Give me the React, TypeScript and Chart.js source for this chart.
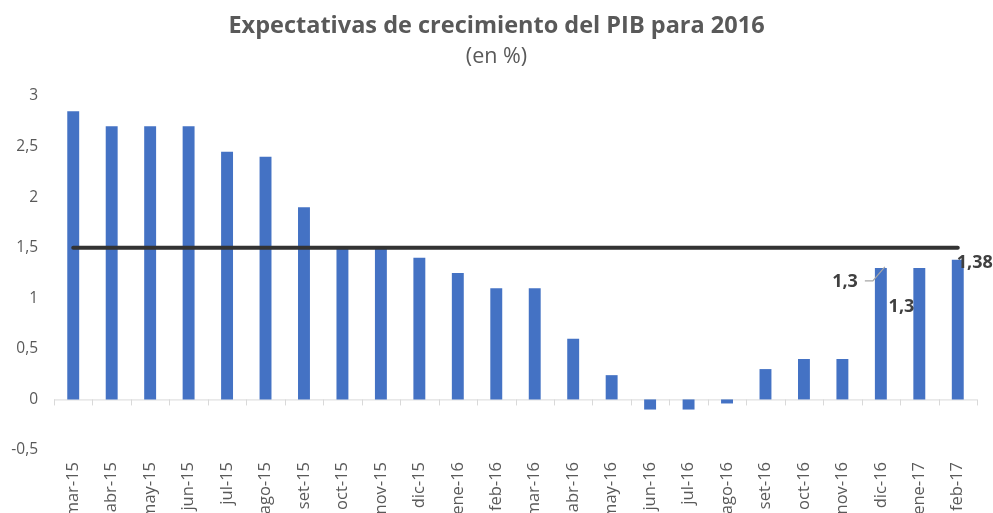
import React, { useEffect, useRef } from "react";
import { Chart, registerables } from "chart.js";

Chart.register(...registerables);

const categories: string[] = [
  "mar-15", "abr-15", "may-15", "jun-15", "jul-15", "ago-15", "set-15", "oct-15",
  "nov-15", "dic-15", "ene-16", "feb-16", "mar-16", "abr-16", "may-16", "jun-16",
  "jul-16", "ago-16", "set-16", "oct-16", "nov-16", "dic-16", "ene-17", "feb-17",
];

const expectations: number[] = [
  2.85, 2.7, 2.7, 2.7, 2.45, 2.4, 1.9, 1.5, 1.5, 1.4, 1.25, 1.1, 1.1, 0.6, 0.24,
  -0.1, -0.1, -0.04, 0.3, 0.4, 0.4, 1.3, 1.3, 1.38,
];

const reference: number[] = categories.map(() => 1.5);

const yTicks: number[] = [-0.5, 0, 0.5, 1, 1.5, 2, 2.5, 3];

const labelTexts: { index: number; text: string }[] = [
  { index: 21, text: "1,3" },
  { index: 22, text: "1,3" },
  { index: 23, text: "1,38" },
];

const titleText = "Expectativas de crecimiento del PIB para 2016";
const subtitleText = "(en %)";

const FONT = "'Open Sans', 'DejaVu Sans', sans-serif";

const fmt = (v: number) => String(v).replace(".", ",");

const zeroAxisPlugin = {
  id: "zeroAxis",
  beforeDatasetsDraw(chart: any) {
    const { ctx, chartArea, scales } = chart;
    const x = scales.x;
    const y0 = scales.y.getPixelForValue(0);
    ctx.save();
    ctx.strokeStyle = "#d9d9d9";
    ctx.lineWidth = 1;
    ctx.beginPath();
    ctx.moveTo(chartArea.left, y0 + 0.5);
    ctx.lineTo(chartArea.right, y0 + 0.5);
    for (let i = 0; i <= categories.length; i++) {
      const px = Math.round(x.getPixelForValue(i - 0.5)) + 0.5;
      ctx.moveTo(px, y0);
      ctx.lineTo(px, y0 + 6);
    }
    ctx.stroke();
    ctx.restore();
  },
};

const dataLabelPlugin = {
  id: "dataLabels",
  afterDatasetsDraw(chart: any) {
    const { ctx } = chart;
    const meta = chart.getDatasetMeta(1);
    ctx.save();
    ctx.font = `bold 18px ${FONT}`;
    ctx.fillStyle = "#404040";
    ctx.textBaseline = "middle";
    labelTexts.forEach(({ index, text }, k) => {
      const el = meta.data[index];
      if (!el) return;
      const bx = el.x;
      const by = el.y;
      if (k === 0) {
        ctx.textAlign = "right";
        ctx.fillText(text, bx - 23, by + 14);
        ctx.strokeStyle = "#a6a6a6";
        ctx.lineWidth = 1.2;
        ctx.beginPath();
        ctx.moveTo(bx - 16, by + 13);
        ctx.lineTo(bx - 8, by + 13);
        ctx.lineTo(bx + 4, by - 1);
        ctx.stroke();
      } else if (k === 1) {
        ctx.textAlign = "right";
        ctx.fillText(text, bx - 5, by + 39);
      } else {
        ctx.textAlign = "left";
        ctx.fillText(text, bx - 1, by + 3);
      }
    });
    ctx.restore();
  },
};

export default function App() {
  const canvasRef = useRef<HTMLCanvasElement | null>(null);

  useEffect(() => {
    if (!canvasRef.current) return;
    const chart = new Chart(canvasRef.current, {
      type: "bar",
      data: {
        labels: categories,
        datasets: [
          {
            type: "line",
            label: "Referencia",
            data: reference,
            borderColor: "#333333",
            borderWidth: 4,
            borderCapStyle: "round",
            pointRadius: 0,
            fill: false,
            order: 0,
          } as any,
          {
            type: "bar",
            label: "Expectativas",
            data: expectations,
            backgroundColor: "#4472C4",
            categoryPercentage: 1,
            barPercentage: 0.31,
            order: 1,
          },
        ],
      },
      options: {
        animation: false,
        responsive: true,
        maintainAspectRatio: false,
        layout: { padding: 0 },
        plugins: {
          legend: { display: false },
          tooltip: { enabled: false },
          title: {
            display: true,
            text: titleText,
            color: "#595959",
            font: { family: FONT, size: 23.5, weight: "bold" },
            padding: { top: 12, bottom: 2 },
          },
          subtitle: {
            display: true,
            text: subtitleText,
            color: "#595959",
            font: { family: FONT, size: 21.5, weight: "normal" },
            padding: { top: 2, bottom: 26 },
          },
        },
        scales: {
          x: {
            grid: { display: false, drawTicks: false },
            border: { display: false },
            ticks: {
              color: "#595959",
              font: { family: FONT, size: 16.5 },
              maxRotation: 90,
              minRotation: 90,
              padding: 12,
              autoSkip: false,
            },
            afterFit: (scale: any) => {
              scale.height = 63;
            },
          },
          y: {
            min: -0.5,
            max: 3,
            grid: { display: false, drawTicks: false },
            border: { display: false },
            afterBuildTicks: (scale: any) => {
              scale.ticks = yTicks.map((v) => ({ value: v }));
            },
            ticks: {
              color: "#595959",
              font: { family: FONT, size: 15.5 },
              padding: 16,
              callback: (v: any) => fmt(Number(v)),
            },
            afterFit: (scale: any) => {
              scale.width = 54;
            },
          },
          yRightGap: {
            type: "linear",
            position: "right",
            display: true,
            grid: { display: false, drawTicks: false },
            border: { display: false },
            ticks: { display: false },
            afterFit: (scale: any) => {
              scale.width = 16;
            },
          },
        },
      },
      plugins: [zeroAxisPlugin, dataLabelPlugin],
    });
    return () => chart.destroy();
  }, []);

  return (
    <div style={{ position: "absolute", left: 0, top: 0, width: 993, height: 513, background: "#ffffff" }}>
      <canvas ref={canvasRef} />
    </div>
  );
}
